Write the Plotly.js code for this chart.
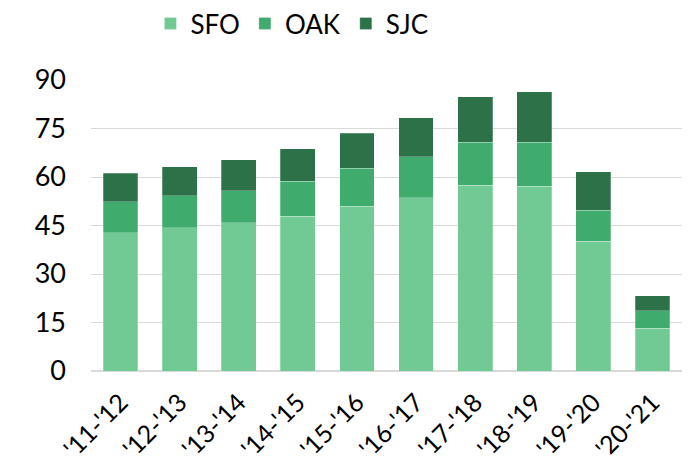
<!DOCTYPE html>
<html>
<head>
<meta charset="utf-8">
<script src="https://cdn.plot.ly/plotly-3.0.1.min.js"></script>
<style>html,body{margin:0;padding:0;background:#fff;}#chart{width:691px;height:467px;}</style>
</head>
<body>
<div id="chart"></div>
<script>
const categories = ["'11-'12","'12-'13","'13-'14","'14-'15","'15-'16","'16-'17","'17-'18","'18-'19","'19-'20","'20-'21"];
const sfo = [42.7, 44.3, 45.9, 47.9, 51.0, 53.6, 57.4, 57.2, 40.2, 13.3];
const oak = [9.6, 9.9, 9.8, 10.8, 11.7, 12.6, 13.4, 13.6, 9.5, 5.3];
const sjc = [8.8, 9.0, 9.7, 10.1, 10.8, 12.1, 14.0, 15.5, 11.9, 4.7];
const yTicks = [0, 15, 30, 45, 60, 75, 90];

const font = "Lato, 'Open Sans', sans-serif";
const mk = (name, y, color) => ({
  type: 'bar', name: name, x: categories, y: y,
  marker: {color: color, line: {color: 'rgba(255,255,255,0.5)', width: 0.5}},
  hoverinfo: 'none'
});
const data = [
  mk('SFO', sfo, '#71CA94'),
  mk('OAK', oak, '#3FAB6C'),
  mk('SJC', sjc, '#2D7149')
];
const layout = {
  width: 691, height: 467,
  margin: {l: 91, r: 9, t: 80, b: 96},
  barmode: 'stack',
  bargap: 0.41,
  paper_bgcolor: '#fff', plot_bgcolor: '#fff',
  font: {family: font, color: '#000', size: 28},
  showlegend: true,
  legend: {orientation: 'h', x: 0.34, xanchor: 'center', yref: 'container', y: 1.0, yanchor: 'top',
           font: {family: font, size: 26, color: '#000'}, itemwidth: 30, tracegroupgap: 0,
           traceorder: 'normal'},
  xaxis: {type: 'category', tickangle: -45, tickfont: {family: font, size: 25, color: '#000'},
          showgrid: false, showline: false, ticks: '', zeroline: false, ticklabelstandoff: 11},
  yaxis: {range: [0, 90], tickvals: yTicks, ticktext: yTicks.map(String),
          tickfont: {family: font, size: 27, color: '#000'},
          showgrid: true, gridcolor: '#D9D9D9', gridwidth: 1,
          zeroline: true, zerolinecolor: '#D9D9D9', zerolinewidth: 2,
          showline: false, ticks: '', ticklen: 0, automargin: false, ticklabelstandoff: 24}
};
Plotly.newPlot('chart', data, layout, {displayModeBar: false, staticPlot: true});
</script>
</body>
</html>
